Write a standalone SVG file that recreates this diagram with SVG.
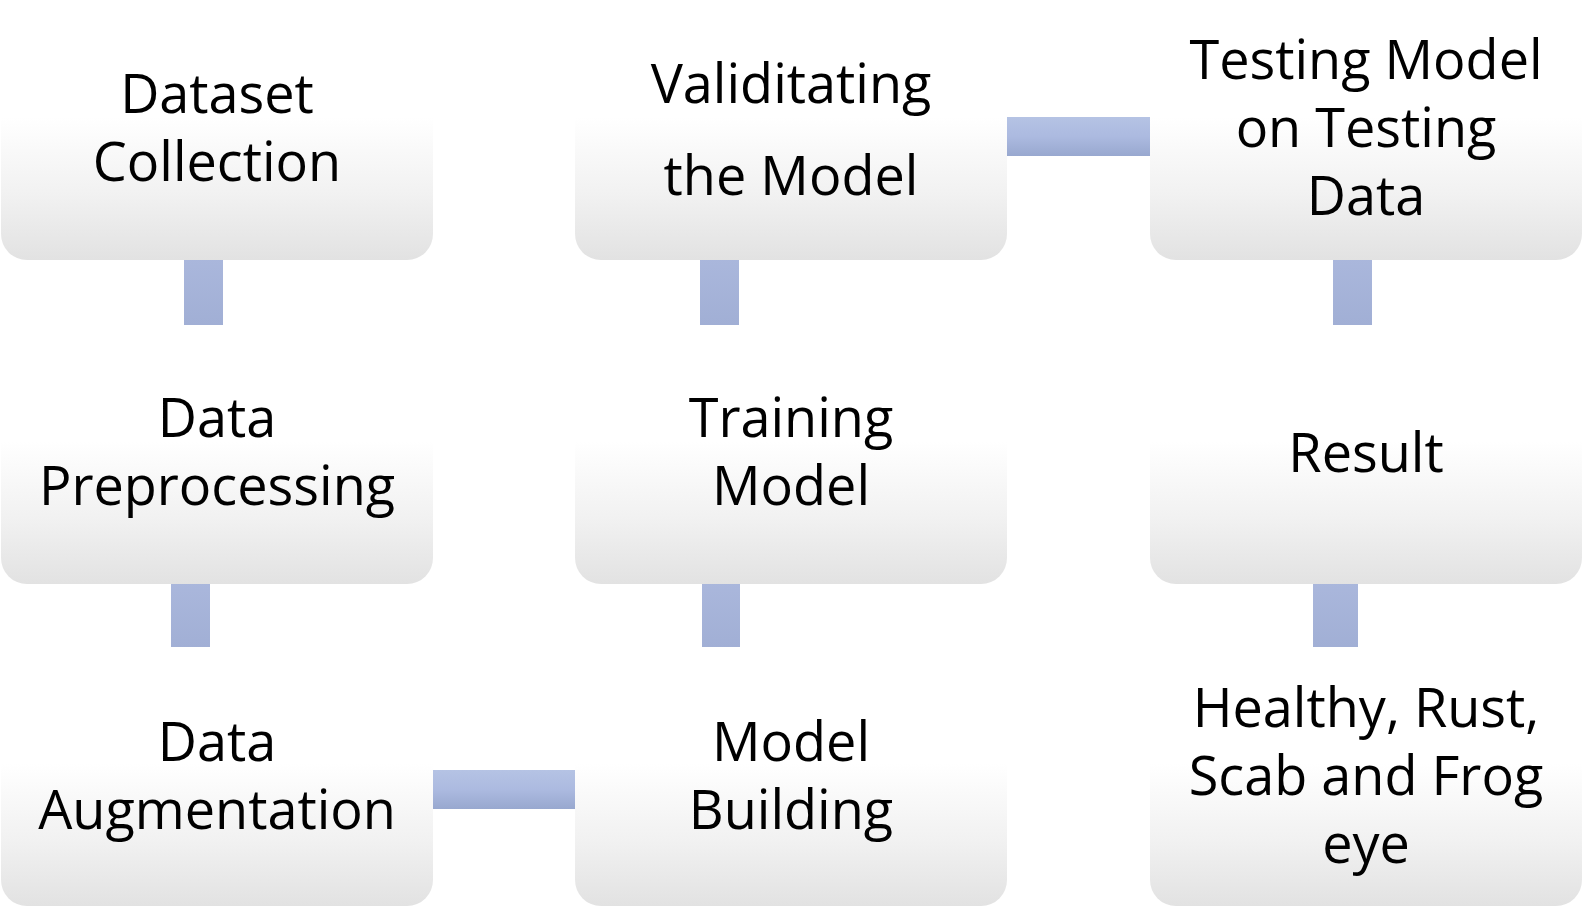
<svg xmlns="http://www.w3.org/2000/svg" width="1583" height="908" viewBox="0 0 1583 908">
<defs>
<linearGradient id="boxg" x1="0" y1="0" x2="0" y2="1">
<stop offset="0" stop-color="#ffffff"/>
<stop offset="0.45" stop-color="#ffffff"/>
<stop offset="0.75" stop-color="#f1f1f1"/>
<stop offset="1" stop-color="#e2e2e2"/>
</linearGradient>
<linearGradient id="hg" x1="0" y1="0" x2="0" y2="1">
<stop offset="0" stop-color="#b5c3e4"/>
<stop offset="0.5" stop-color="#acbae0"/>
<stop offset="1" stop-color="#98a8cf"/>
</linearGradient>
<linearGradient id="vg" x1="0" y1="0" x2="0" y2="1">
<stop offset="0" stop-color="#aab7dc"/>
<stop offset="1" stop-color="#a1afd5"/>
</linearGradient>
</defs>
<style>
.box{fill:url(#boxg);}
.h{fill:url(#hg);}
.v{fill:url(#vg);}
text{font-family:"Open Sans","Liberation Sans",sans-serif;font-size:54px;fill:#000;text-anchor:middle;}
</style>
<rect width="1583" height="908" fill="#ffffff"/>
<g id="connectors">
<rect class="v" x="184" y="258" width="39" height="67"/>
<rect class="v" x="171" y="582" width="39" height="66"/>
<rect class="v" x="700" y="258" width="39" height="67"/>
<rect class="v" x="702" y="582" width="38" height="66"/>
<rect class="v" x="1333" y="258" width="39" height="67"/>
<rect class="v" x="1313" y="582" width="45" height="65"/>
<rect class="h" x="431" y="770" width="146" height="39"/>
<rect class="h" x="1005" y="117" width="147" height="39"/>
</g>
<g id="n1"><rect class="box" x="1" y="1" width="432" height="259" rx="26"/>
<text x="217" y="113">Dataset</text><text x="217" y="181">Collection</text></g>
<g id="n2"><rect class="box" x="1" y="325" width="432" height="259" rx="26"/>
<text x="217" y="437">Data</text><text x="217" y="505">Preprocessing</text></g>
<g id="n3"><rect class="box" x="1" y="647" width="432" height="259" rx="26"/>
<text x="217" y="761">Data</text><text x="217" y="829">Augmentation</text></g>
<g id="n4"><rect class="box" x="575" y="647" width="432" height="259" rx="26"/>
<text x="791" y="761">Model</text><text x="791" y="829">Building</text></g>
<g id="n5"><rect class="box" x="575" y="325" width="432" height="259" rx="26"/>
<text x="791" y="437">Training</text><text x="791" y="505">Model</text></g>
<g id="n6"><rect class="box" x="575" y="1" width="432" height="259" rx="26"/>
<text x="791" y="103">Validitating</text><text x="791" y="195">the Model</text></g>
<g id="n7"><rect class="box" x="1150" y="1" width="432" height="259" rx="26"/>
<text x="1366" y="79">Testing Model</text><text x="1366" y="147">on Testing</text><text x="1366" y="215">Data</text></g>
<g id="n8"><rect class="box" x="1150" y="325" width="432" height="259" rx="26"/>
<text x="1366" y="472">Result</text></g>
<g id="n9"><rect class="box" x="1150" y="647" width="432" height="259" rx="26"/>
<text x="1366" y="727">Healthy, Rust,</text><text x="1366" y="795">Scab and Frog</text><text x="1366" y="863">eye</text></g>
</svg>
